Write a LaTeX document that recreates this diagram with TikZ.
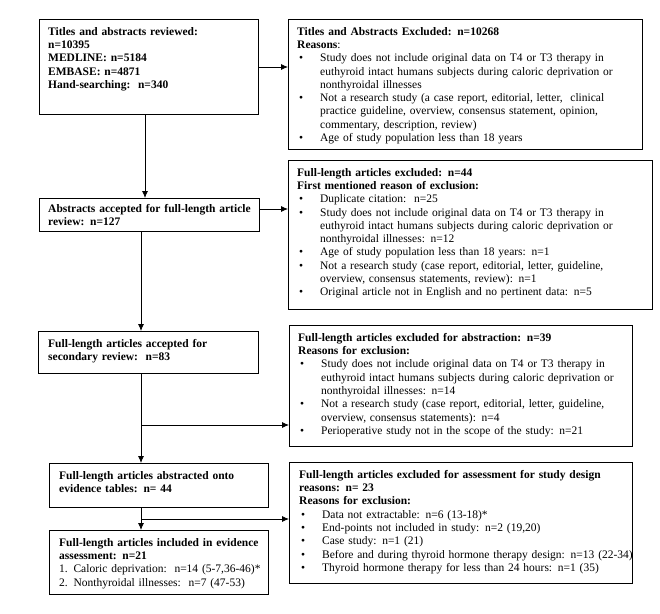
\documentclass[tikz,border=0pt]{standalone}
\usepackage{fontspec}
\setmainfont{Liberation Serif}
\usetikzlibrary{arrows.meta,calc}
\newcommand{\bitem}[1]{\par\hangindent=23pt\hangafter=1\noindent\makebox[23pt][l]{\hspace{2pt}\textbullet}#1}
\tikzset{
  box/.style={draw=black, line width=0.8pt, anchor=north west, inner sep=0pt},
  txt/.style={anchor=north west, inner sep=0pt, align=left, font=\fontsize{11.5}{13.3}\selectfont},
  arr/.style={draw=black, line width=0.8pt, -{Latex[length=7pt,width=6pt]}},
  ln/.style={draw=black, line width=0.8pt}
}
\begin{document}
\begin{tikzpicture}[x=1pt,y=-1pt]
\useasboundingbox (0,0) rectangle (660,613);
% left column boxes
\node[box, minimum width=219pt, minimum height=95pt] (b1) at (39,19) {};
\node[box, minimum width=220pt, minimum height=33pt] (b2) at (39,198) {};
\node[box, minimum width=220pt, minimum height=42pt] (b3) at (38,331) {};
\node[box, minimum width=219pt, minimum height=44pt] (b4) at (49,463) {};
\node[box, minimum width=219pt, minimum height=64pt] (b5) at (49,530) {};
% right column boxes
\node[box, minimum width=354pt, minimum height=130pt] (r1) at (288,19) {};
\node[box, minimum width=364pt, minimum height=149pt] (r2) at (288,160) {};
\node[box, minimum width=343pt, minimum height=121pt] (r3) at (289,325) {};
\node[box, minimum width=343pt, minimum height=121pt] (r4) at (289,462) {};

% texts left
\node[txt, text width=210pt] (t1) at ($(b1.north west)+(9,8)$) {\textbf{Titles and abstracts reviewed:}\\ \textbf{n=10395}\\ \textbf{MEDLINE: n=5184}\\ \textbf{EMBASE: n=4871}\\ \textbf{Hand-searching:\ \ n=340}};
\node[txt, text width=212pt] (t2) at ($(b2.north west)+(9,6)$) {\textbf{Abstracts accepted for full-length article}\\ \textbf{review: n=127}};
\node[txt, text width=212pt] (t3) at ($(b3.north west)+(10,8)$) {\textbf{Full-length articles accepted for}\\ \textbf{secondary review:\ \ n=83}};
\node[txt, text width=212pt] (t4) at ($(b4.north west)+(10,8)$) {\textbf{Full-length articles abstracted onto}\\ \textbf{evidence tables: n= 44}};
\node[txt, text width=212pt] (t5) at ($(b5.north west)+(10,8)$) {\textbf{Full-length articles included in evidence}\\ \textbf{assessment: n=21}\\ 1. Caloric deprivation:\ \ n=14 (5-7,36-46)*\\ 2. Nonthyroidal illnesses:\ \ n=7 (47-53)};

% texts right
\node[txt, text width=345pt] (s1) at ($(r1.north west)+(9,8)$) {\textbf{Titles and Abstracts Excluded: n=10268}\\ \textbf{Reasons}:
\bitem{Study does not include original data on T4 or T3 therapy in\newline euthyroid intact humans subjects during caloric deprivation or\newline nonthyroidal illnesses}
\bitem{Not a research study (a case report, editorial, letter,\ \ clinical\newline practice guideline, overview, consensus statement, opinion,\newline commentary, description, review)}
\bitem{Age of study population less than 18 years}};
\node[txt, text width=355pt] (s2) at ($(r2.north west)+(9,8)$) {\textbf{Full-length articles excluded: n=44}\\ \textbf{First mentioned reason of exclusion:}
\bitem{Duplicate citation:\ \ n=25}
\bitem{Study does not include original data on T4 or T3 therapy in\newline euthyroid intact humans subjects during caloric deprivation or\newline nonthyroidal illnesses: n=12}
\bitem{Age of study population less than 18 years: n=1}
\bitem{Not a research study (case report, editorial, letter, guideline,\newline overview, consensus statements, review): n=1}
\bitem{Original article not in English and no pertinent data: n=5}};
\node[txt, text width=334pt] (s3) at ($(r3.north west)+(9,8)$) {\textbf{Full-length articles excluded for abstraction: n=39}\\ \textbf{Reasons for exclusion:}
\bitem{Study does not include original data on T4 or T3 therapy in\newline euthyroid intact humans subjects during caloric deprivation or\newline nonthyroidal illnesses: n=14}
\bitem{Not a research study (case report, editorial, letter, guideline,\newline overview, consensus statements): n=4}
\bitem{Perioperative study not in the scope of the study: n=21}};
\node[txt, text width=334pt] (s4) at ($(r4.north west)+(10,8)$) {\textbf{Full-length articles excluded for assessment for study design}\\ \textbf{reasons: n= 23}\\ \textbf{Reasons for exclusion:}
\bitem{Data not extractable: n=6 (13-18)*}
\bitem{End-points not included in study: n=2 (19,20)}
\bitem{Case study: n=1 (21)}
\bitem{Before and during thyroid hormone therapy design: n=13 (22-34)}
\bitem{Thyroid hormone therapy for less than 24 hours: n=1 (35)}};

% connectors
\coordinate (c1) at (145,114);
\coordinate (c2) at (141,231);
\coordinate (j3) at (141,425);
\coordinate (j4) at (141,519);
\coordinate (a1) at ($(b1.north east)+(0,48)$);
\coordinate (a2) at ($(b2.north east)+(0,11)$);
\draw[arr] (a1) -- (a1 -| r1.west);
\draw[arr] (c1) -- (c1 |- b2.north);
\draw[arr] (a2) -- (a2 -| r2.west);
\draw[arr] (c2) -- (c2 |- b3.north);
\draw[arr] (c2 |- b3.south) -- (c2 |- b4.north);
\draw[arr] (j3) -- (j3 -| r3.west);
\draw[arr] (c2 |- b4.south) -- (c2 |- b5.north);
\draw[arr] (j4) -- (j4 -| r4.west);
\end{tikzpicture}
\end{document}
